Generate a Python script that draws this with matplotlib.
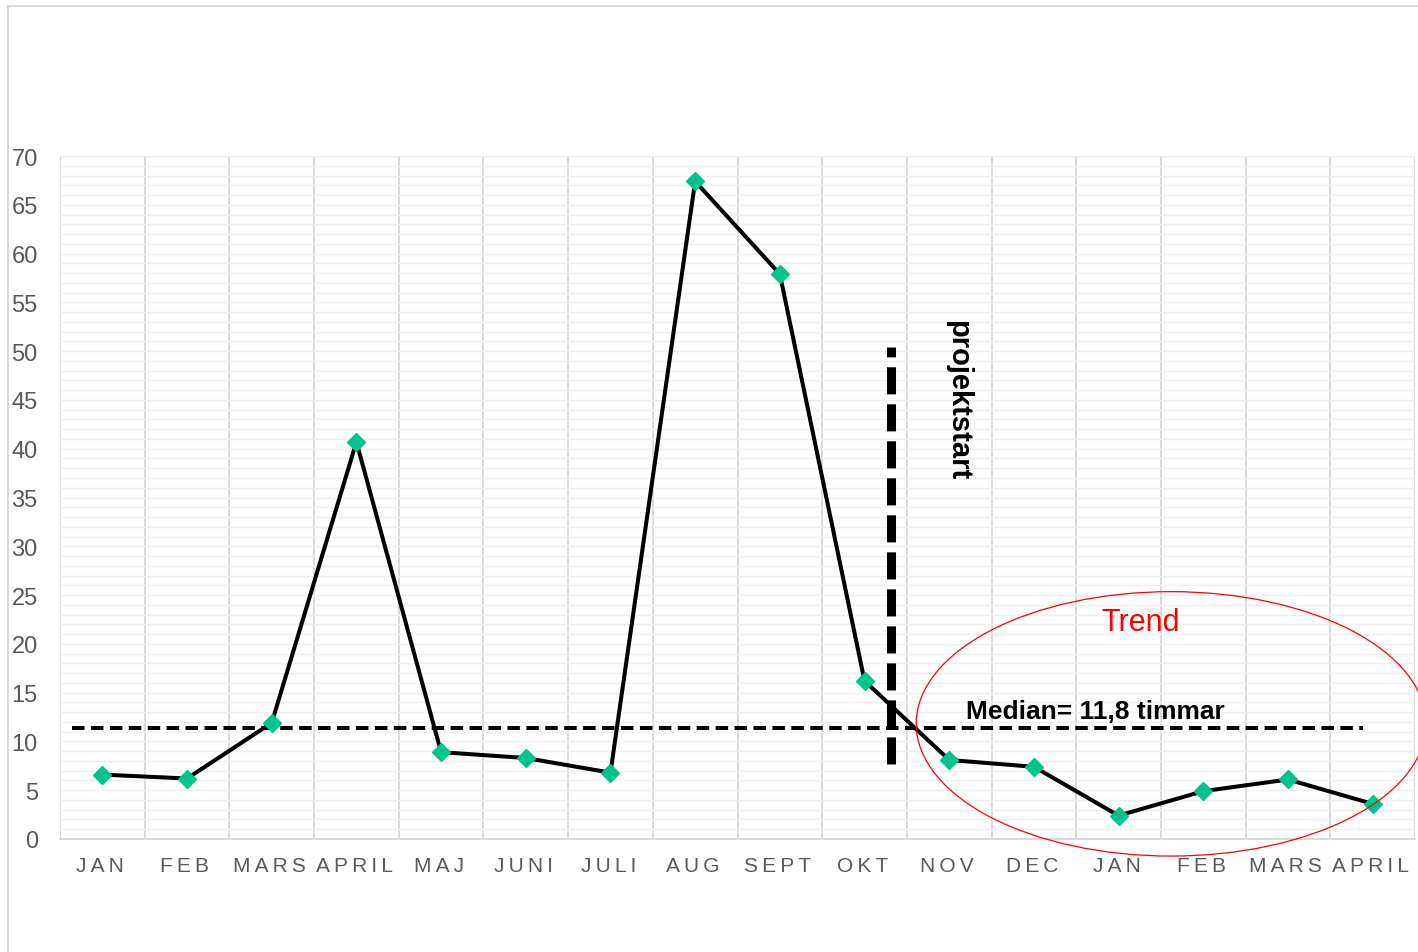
import matplotlib
matplotlib.use("Agg")
import matplotlib.pyplot as plt
from matplotlib.patches import Ellipse, Rectangle
from matplotlib.ticker import MultipleLocator
import numpy as np

plt.rcParams['font.family'] = ['Liberation Sans', 'DejaVu Sans']

# data
months = ["JAN", "FEB", "MARS", "APRIL", "MAJ", "JUNI", "JULI", "AUG",
          "SEPT", "OKT", "NOV", "DEC", "JAN", "FEB", "MARS", "APRIL"]
hours = [6.6, 6.2, 11.9, 40.7, 8.9, 8.3, 6.8, 67.4,
         57.9, 16.2, 8.1, 7.4, 2.4, 4.9, 6.1, 3.6]
median_value = 11.4
median_label = "Median= 11,8 timmar"
start_label = "projektstart"
trend_label = "Trend"

fig = plt.figure(figsize=(14.18, 9.53), dpi=100)
ax = fig.add_axes([60/1418, 1-840/953, 1355/1418, 683/953])

# light frame around the chart (cropped on right/bottom like the reference)
fig.patches.append(Rectangle((8/1418, -0.2), 1.5, 1.2 - 7/953,
                             transform=fig.transFigure, fill=False,
                             edgecolor='#d9d9d9', lw=1.5))

x = np.arange(len(months))
ax.plot(x, hours, color='black', lw=2.9, zorder=4)
ax.plot(x, hours, ls='none', marker='D', color='#00c48c', ms=9, zorder=5)

# median line
ax.plot([-0.36, 14.89], [median_value, median_value], color='black', lw=2.9,
        dashes=(3.1, 1.6), zorder=3)
ax.text(10.2, 13.1, median_label, fontsize=19, fontweight='bold',
        ha='left', va='center', zorder=6)

# project start
ax.plot([9.31, 9.31], [7.7, 50.4], color='black', lw=6.5, dashes=(3.0, 1.1),
        zorder=6)
ax.text(10.1, 45.1, start_label, fontsize=21, fontweight='bold',
        rotation=270, ha='center', va='center')

# trend ellipse
ax.add_patch(Ellipse((12.62, 11.8), 6.02, 27.1, fill=False, edgecolor='red',
                     lw=0.9, clip_on=False, zorder=7))
ax.text(12.26, 22.2, trend_label, color='red', fontsize=22, ha='center',
        va='center')

ax.set_xlim(-0.5, len(months) - 0.5)
ax.set_ylim(0, 70)
ax.set_xticks(x)
ax.set_xticklabels(["\u2009".join(m) + "\u2009" for m in months], fontsize=15,
                   color='#595959')
ax.set_yticks(np.arange(0, 71, 5))
ax.tick_params(axis='y', length=0, pad=16, labelsize=17, labelcolor='#595959')
ax.tick_params(axis='x', length=0, pad=12)
ax.xaxis.set_minor_locator(MultipleLocator(1, offset=0.5))
ax.yaxis.set_minor_locator(MultipleLocator(1))
ax.tick_params(which='minor', length=0)
ax.grid(which='minor', axis='x', color='#d9d9d9', lw=1.4)
ax.grid(which='both', axis='y', color='#efefef', lw=1.0)
ax.set_axisbelow(True)
for s in ['top', 'right', 'left']:
    ax.spines[s].set_visible(False)
ax.spines['bottom'].set_color('#d9d9d9')
ax.spines['bottom'].set_linewidth(1.4)

fig.savefig("out.png", dpi=100)
